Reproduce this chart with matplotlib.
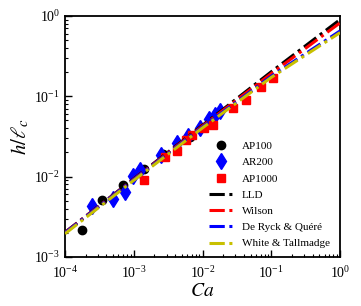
import matplotlib
matplotlib.use("Agg")
import matplotlib.pyplot as plt
from matplotlib.ticker import LogLocator, NullFormatter

plt.rcParams['font.family'] = ['Liberation Serif', 'DejaVu Serif']
plt.rcParams['mathtext.fontset'] = 'stix'

ap100_ca = [1.75e-4, 3.49e-4, 6.9e-4, 1.41e-3, 2.69e-3, 6.58e-3]
ap100_h = [2.17e-3, 5.13e-3, 7.87e-3, 1.24e-2, 1.90e-2, 3.15e-2]

ar200_ca = [2.49e-4, 5.05e-4, 7.46e-4, 9.87e-4, 1.23e-3, 2.49e-3, 4.21e-3,
            6.22e-3, 9.2e-3, 1.24e-2, 1.52e-2, 1.8e-2]
ar200_h = [4.32e-3, 5.27e-3, 6.5e-3, 1.03e-2, 1.21e-2, 1.86e-2, 2.6e-2,
           3.2e-2, 4.07e-2, 5.2e-2, 5.86e-2, 6.57e-2]

ap1000_ca = [1.41e-3, 2.85e-3, 4.21e-3, 5.69e-3, 6.96e-3, 1.06e-2, 1.44e-2,
             2.8e-2, 4.25e-2, 7.1e-2, 0.105]
ap1000_h = [9.1e-3, 1.77e-2, 2.1e-2, 2.87e-2, 3.3e-2, 4.0e-2, 4.4e-2,
            7.1e-2, 9.0e-2, 0.129, 0.168]

# Theory curves
line_ca = [1e-4, 1e-3, 1e-2, 1e-1, 1.0]
lld_h = [2.03e-3, 9.4e-3, 4.36e-2, 0.202, 0.90]
wilson_h = [2.02e-3, 9.3e-3, 4.26e-2, 0.192, 0.82]
deryck_h = [2.0e-3, 9.2e-3, 4.15e-2, 0.178, 0.65]
white_h = [1.95e-3, 9.0e-3, 4.05e-2, 0.172, 0.62]

fig = plt.figure(figsize=(3.61, 3.06), dpi=100)
ax = fig.add_axes([0.180, 0.160, 0.762, 0.788])

ax.plot(ap100_ca, ap100_h, 'o', color='black', ms=6, ls='none', label='AP100', zorder=3)
ax.plot(ar200_ca, ar200_h, 'd', color='blue', ms=8, ls='none', label='AR200', zorder=3)
ax.plot(ap1000_ca, ap1000_h, 's', color='red', ms=6, ls='none', label='AP1000', zorder=3)

dash = (0, (5, 1.5, 1, 1.5))
lw = 2.2
ax.plot(line_ca, lld_h, color='black', lw=lw, ls=dash, label='LLD', zorder=4)
ax.plot(line_ca, wilson_h, color='red', lw=lw, ls=dash, label='Wilson', zorder=4)
ax.plot(line_ca, deryck_h, color='blue', lw=lw, ls=dash, label='De Ryck & Quéré', zorder=4)
ax.plot(line_ca, white_h, color='#c8c000', lw=lw, ls=dash, label='White & Tallmadge', zorder=4)

ax.set_xscale('log')
ax.set_yscale('log')
ax.set_xlim(1e-4, 1)
ax.set_ylim(1e-3, 1)
ax.xaxis.set_major_locator(LogLocator(base=10, numticks=10))
ax.yaxis.set_major_locator(LogLocator(base=10, numticks=10))
ax.xaxis.set_minor_locator(LogLocator(base=10, subs=range(2, 10), numticks=20))
ax.yaxis.set_minor_locator(LogLocator(base=10, subs=range(2, 10), numticks=20))
ax.xaxis.set_minor_formatter(NullFormatter())
ax.yaxis.set_minor_formatter(NullFormatter())

ax.tick_params(which='both', direction='in', top=False, right=False, labelsize=10)
ax.tick_params(which='major', length=5, width=1)
ax.tick_params(which='minor', length=2.5, width=0.8)
ax.tick_params(axis='x', pad=6)
for s in ax.spines.values():
    s.set_linewidth(1.3)

ax.set_xlabel('$Ca$', fontsize=14, labelpad=1)
ax.set_ylabel(r'$h/\ell_c$', fontsize=15, labelpad=2)

ax.legend(loc='upper left', bbox_to_anchor=(0.525, 0.48), frameon=False,
          fontsize=8, handlelength=2.0, handletextpad=0.9, labelspacing=0.58,
          borderpad=0, borderaxespad=0)

fig.savefig('out.png', dpi=100)
